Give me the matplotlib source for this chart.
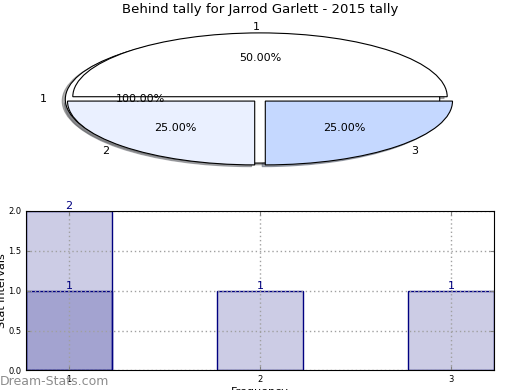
import numpy as np
import matplotlib
matplotlib.use('Agg')
import matplotlib.pyplot as plt


# datos del grafico
title = 'Behind tally for Jarrod Garlett - 2015 tally'
pie_labels = ['1', '2', '3']
pie_values = [2, 1, 1]
pie_colors = ['#FFFFFF', '#EAF0FF', '#C5D8FF']
pie_explode = [0.04, 0.04, 0.04]

bar_x = [1, 2, 3]
bar_counts = [2, 1, 1]
# segunda capa de barras (se superpone en x=1)
bar2_x = [1]
bar2_counts = [1]

fig = plt.figure(figsize=(5.2, 3.9), dpi=100)
fig.subplots_adjust(left=0.05, right=0.95, top=0.95, bottom=0.05, hspace=0.2)

# ---- torta ----
ax1 = fig.add_subplot(211)
wp = dict(edgecolor='black', linewidth=0.8)
sh = dict(ox=-0.012, oy=-0.02, shade=0.6)
ax1.pie([1], labels=['1'], explode=[0.04], autopct='%.2f%%', shadow=sh,
        colors=['white'], wedgeprops=wp, textprops=dict(fontsize=8))
ax1.pie(pie_values, labels=pie_labels, explode=pie_explode, autopct='%.2f%%',
        shadow=sh, colors=pie_colors, wedgeprops=wp, textprops=dict(fontsize=8))
ax1.set_aspect('auto')
ax1.set_xlim(-1.25, 1.25)
ax1.set_ylim(-1.25, 1.25)
ax1.set_title(title, fontsize=9.5, pad=5)

# ---- barras ----
ax2 = fig.add_subplot(212)
ax2.bar(bar_x, bar_counts, width=0.45, facecolor=(0, 0, 0.5, 0.2), edgecolor='navy', zorder=1)
ax2.bar(bar2_x, bar2_counts, width=0.45, facecolor=(0, 0, 0.5, 0.2), edgecolor='navy', zorder=1)
for x, h in zip(bar_x, bar_counts):
    ax2.text(x, h, str(h), ha='center', va='bottom', color='navy', fontsize=8)
for x, h in zip(bar2_x, bar2_counts):
    ax2.text(x, h, str(h), ha='center', va='bottom', color='navy', fontsize=8)

ax2.set_xlim(0.775, 3.225)
ax2.set_ylim(0, 2)
ax2.set_xticks(bar_x)
ax2.set_yticks(np.arange(0, 2.01, 0.5))
ax2.set_yticklabels(['%.1f' % v for v in np.arange(0, 2.01, 0.5)])
ax2.tick_params(direction='in', top=True, right=True, labelsize=6, length=3, color='gray')
ax2.grid(True, linestyle=(0, (1, 2)), color='#a0a0a0', linewidth=1)
ax2.set_axisbelow(False)
for sp in ax2.spines.values():
    sp.set_zorder(4)
ax2.set_xlabel('Frequency', fontsize=8, labelpad=2)
ax2.set_ylabel('Stat intervals', fontsize=8, labelpad=1)

fig.text(0.0, 0.023, 'Dream-Stats.com', color='#8c8c8c', fontsize=9,
         va='center', ha='left')

plt.savefig('out.png', dpi=100)
